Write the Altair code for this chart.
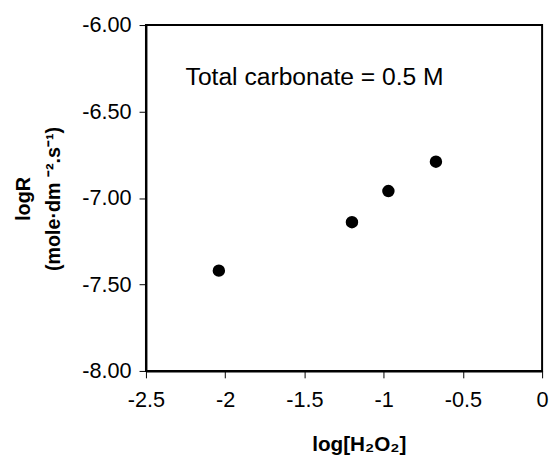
import altair as alt
import pandas as pd

# Data
log_h2o2 = [-2.04, -1.20, -0.97, -0.67]
log_r = [-7.42, -7.14, -6.96, -6.79]

x_ticks = [-2.5, -2.0, -1.5, -1.0, -0.5, 0.0]
y_ticks = [-8.0, -7.5, -7.0, -6.5, -6.0]

note_text = ["Total carbonate = 0.5 M"]
note_x = [-2.25]
note_y = [-6.348]

FONT = "Liberation Sans"

pts = pd.DataFrame({"x": log_h2o2, "y": log_r})
note = pd.DataFrame({"x": note_x, "y": note_y, "t": note_text})

xscale = alt.Scale(domain=[-2.5, 0], nice=False, zero=False)
yscale = alt.Scale(domain=[-8, -6], nice=False, zero=False)

xaxis = alt.Axis(
    title="log[H₂O₂]",
    values=x_ticks,
    labelExpr="replace(format(datum.value, '~g'), '\u2212', '-')",
    grid=False,
    domainColor="black",
    domainWidth=2,
    tickColor="black",
    tickWidth=1,
    tickSize=7,
    labelPadding=12,
    labelFont=FONT,
    labelFontSize=22,
    labelColor="black",
    labelFlush=False,
    labelOverlap=False,
    titleFont=FONT,
    titleFontSize=21,
    titleFontWeight="bold",
    titleColor="black",
    titleX=216,
    titleY=64,
    titleBaseline="top",
)

yaxis = alt.Axis(
    title=["logR", "(mole·dm ⁻².s⁻¹)"],
    values=y_ticks,
    labelExpr="replace(format(datum.value, '.2f'), '\u2212', '-')",
    grid=False,
    domainColor="black",
    domainWidth=2,
    tickColor="black",
    tickWidth=1,
    tickSize=7,
    labelPadding=8,
    labelFont=FONT,
    labelFontSize=22,
    labelColor="black",
    labelFlush=False,
    labelOverlap=False,
    titleFont=FONT,
    titleFontSize=20,
    titleFontWeight="bold",
    titleColor="black",
    titleAngle=270,
    titleX=-134,
    titleY=176,
    titleAlign="center",
    titleBaseline="top",
    titleLineHeight=30,
)

points = alt.Chart(pts).mark_circle(size=160, color="black", opacity=1).encode(
    x=alt.X("x:Q", scale=xscale, axis=xaxis),
    y=alt.Y("y:Q", scale=yscale, axis=yaxis),
)

label = alt.Chart(note).mark_text(
    align="left", baseline="alphabetic", font=FONT, fontSize=25, color="black"
).encode(
    x=alt.X("x:Q", scale=xscale),
    y=alt.Y("y:Q", scale=yscale),
    text="t:N",
)

chart = (
    alt.layer(points, label)
    .properties(
        width=402,
        height=351,
        autosize=alt.AutoSizeParams(type="none"),
        padding={"left": 140, "top": 14, "right": 7, "bottom": 82},
        background="white",
    )
    .configure_view(stroke="black", strokeWidth=2)
)

chart.save("out.html", embed_options={"renderer": "svg", "actions": False})
